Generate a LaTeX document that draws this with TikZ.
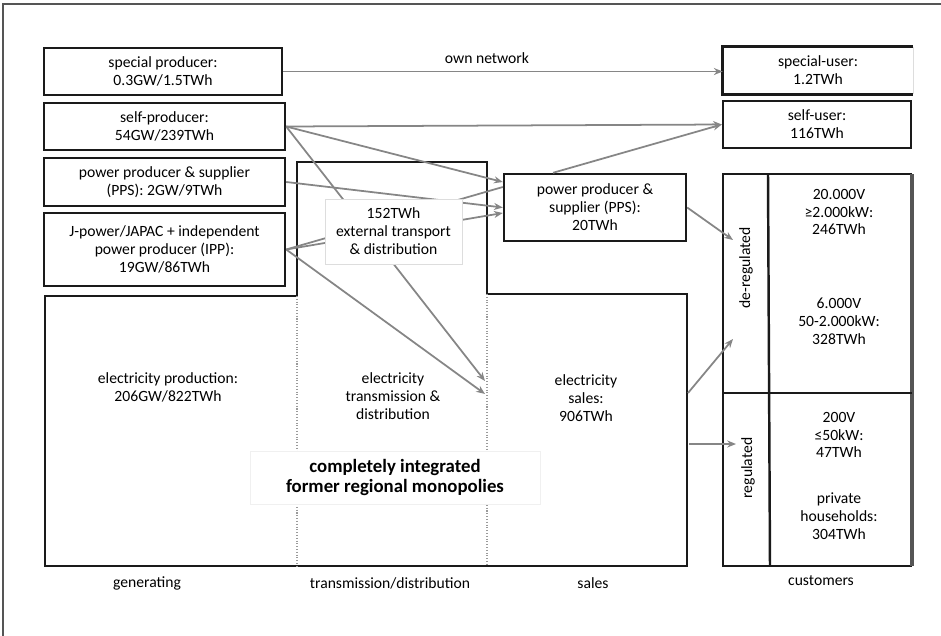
\documentclass[tikz,border=0pt]{standalone}
\usepackage{fontspec}
\setmainfont{Carlito}
\usetikzlibrary{arrows.meta,calc}
\definecolor{boxc}{HTML}{1A1A1A}
\definecolor{flowc}{HTML}{868686}
\definecolor{dotc}{HTML}{9A9A9A}
\definecolor{extc}{HTML}{DDDDDD}
\definecolor{framec}{HTML}{555555}
\newcommand\dlabelfont{\fontsize{8.9}{10.2}\selectfont}
\newcommand\dboldfont{\fontsize{10.7}{11.8}\selectfont\bfseries}
\begin{document}
\begin{tikzpicture}[x=0.02cm,y=-0.02cm,
  box/.style={draw=boxc,line width=1.4pt,align=center,inner sep=0pt,font=\dlabelfont},
  txt/.style={align=center,inner sep=0pt,font=\dlabelfont},
  flow/.style={draw=flowc,line width=1pt,-{Stealth[length=5pt,width=4pt]}},
  flowplain/.style={draw=flowc,line width=1pt},
  thick line/.style={draw=boxc,line width=1.4pt}
]
\useasboundingbox (0,0) rectangle (941,636);
% outer frame
\draw[framec,line width=0.8pt] (3,636) -- (3,4) -- (941,4);

% integrated monopolies polygon
\draw[thick line] (45,296) -- (297,296) -- (297,162) -- (487,162) -- (487,294)
  -- (687,294) -- (687,566) -- (45,566) -- cycle;
\draw[dotc,line width=1pt,dash pattern=on 0.6pt off 1pt] (297,296) -- (297,566);
\draw[dotc,line width=1pt,dash pattern=on 0.6pt off 1pt] (487,294) -- (487,566);

% customers box
\draw[thick line] (912,174) -- (723,174) -- (723,566) -- (912,566);
\draw[draw=framec,line width=2pt] (912,174) -- (912,566);
\draw[thick line] (768,174) -- (770,566);
\draw[thick line] (723,393) -- (912,393);

% producer boxes
\node[box,minimum width=4.76cm,minimum height=0.94cm] (sp) at (163,71.5) {special producer:\\0.3GW/1.5TWh};
\node[box,minimum width=4.82cm,minimum height=0.94cm] (selfp) at (164.5,126.5) {self-producer:\\54GW/239TWh};
\node[box,minimum width=4.82cm,minimum height=0.96cm] (ppsL) at (164.5,182) {power producer \& supplier\\(PPS): 2GW/9TWh};
\node[box,minimum width=4.82cm,minimum height=1.46cm] (jp) at (164.5,249.5) {J-power/JAPAC + independent\\power producer (IPP):\\19GW/86TWh};
\node[box,minimum width=3.64cm,minimum height=1.34cm] (ppsR) at (595,207.5) {power producer \&\\supplier (PPS):\\20TWh};

% user boxes
\node[txt,minimum width=3.8cm,minimum height=0.94cm] (suser) at (818,70.5) {special-user:\\1.2TWh};
\draw[thick line] (suser.north east) -- (suser.north west) -- (suser.south west) -- (suser.south east);
\draw[extc,line width=0.6pt] (suser.north east) -- (suser.south east);
\node[box,minimum width=3.76cm,minimum height=0.94cm] (selfu) at (817,124.5) {self-user:\\116TWh};

\node[txt] (own) at (487,58) {own network};

% area texts
\node[txt] (prod) at (168,387) {electricity production:\\206GW/822TWh};
\node[txt] (trans) at (393,396) {electricity\\transmission \&\\distribution};
\node[txt] (sales) at (586,398) {electricity\\sales:\\906TWh};

% customer texts
\node[txt] (c1) at (839,212) {20.000V\\≥2.000kW:\\246TWh};
\node[txt] (c2) at (839,321) {6.000V\\50-2.000kW:\\328TWh};
\node[txt] (c3) at (839,435) {200V\\≤50kW:\\47TWh};
\node[txt] (c4) at (839,516) {private\\households:\\304TWh};
\node[txt,rotate=90] (dereg) at (746,268) {de-regulated};
\node[txt,rotate=90] (reg) at (748,468) {regulated};

% bottom labels
\node[txt] (lgen) at (147,583) {generating};
\node[txt] (ltd) at (390,583) {transmission/distribution};
\node[txt] (lsales) at (593,583) {sales};
\node[txt] (lcust) at (821,581) {customers};

% flows
\coordinate (p1) at ([yshift=0.51cm]ppsR.west);
\coordinate (p2) at ([yshift=0.41cm]ppsR.west);
\coordinate (p3) at ([yshift=-0.11cm]ppsR.west);
\coordinate (p4) at ([xshift=-0.84cm]ppsR.north);
\coordinate (td1) at (485,381);
\coordinate (td2) at (485,394);
\coordinate (dr1) at (733,240);
\coordinate (s1) at (688,393);
\coordinate (dr2) at (733,339);
\coordinate (s2) at (689,444);
\coordinate (rg) at (736,444);

\draw[flow] (sp.east) -- (sp.east -| suser.west);
\draw[flow] (selfp.east) -- (selfu.west);
\draw[flow] (selfp.east) -- (p1);
\draw[flow] (selfp.east) -- (td1);
\draw[flow] (jp.east) -- (td2);
\draw[flow] (ppsL.east) -- (ppsR.west);
\draw[flowplain] (jp.east) -- (p2);
\draw[flow] (jp.east) -- (p3);
\draw[flow] (p4) -- (selfu.west);
\draw[flow] (ppsR.east) -- (dr1);
\draw[flow] (s1) -- (dr2);
\draw[flow] (s2) -- (rg);

% overlay boxes
\node[txt,draw=extc,fill=white,line width=0.5pt,minimum width=2.74cm,minimum height=1.3cm] (ext) at (393.5,231.5) {152TWh\\external transport\\\& distribution};
\node[align=center,inner sep=0pt,draw=black!6,fill=white,line width=0.5pt,minimum width=5.8cm,minimum height=1.06cm,font=\dboldfont] (mono) at (395,477.5) {completely integrated\\former regional monopolies};
\end{tikzpicture}
\end{document}
